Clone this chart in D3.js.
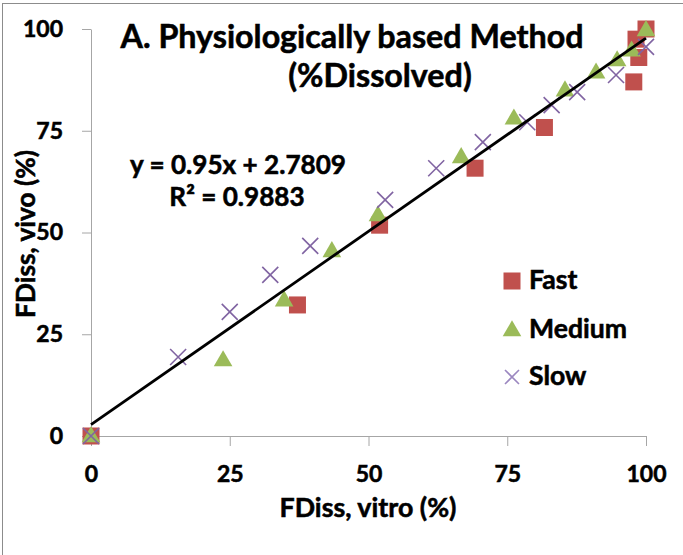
<!DOCTYPE html>
<html>
<head>
<meta charset="utf-8">
<script src="https://cdn.jsdelivr.net/npm/d3@7"></script>
<style>
  html, body { margin: 0; padding: 0; background: #fff; }
  svg text { font-family: Lato, "Open Sans", sans-serif; font-weight: bold; fill: #000; stroke: #000; stroke-width: 0.55px; }
</style>
</head>
<body>
<svg id="chart" width="683" height="555"></svg>
<script>
// ---- data ----
const fastX   = [0, 37.2, 52, 69.2, 81.7, 97.8, 98.7, 98.2, 100];
const fastY   = [0, 32.2, 51.8, 65.8, 75.8, 87, 93, 97.5, 100];
const mediumX = [0, 23.8, 34.8, 43.4, 51.7, 66.7, 76.2, 85.4, 91, 94.8, 97.4, 100];
const mediumY = [0, 18.7, 33.4, 45.5, 54.3, 68.6, 78.1, 85, 89.4, 92.4, 94.8, 99.8];
const slowX   = [0, 15.7, 25, 32.3, 39.5, 53, 62.2, 70.6, 78.6, 83, 87.6, 94.6, 100];
const slowY   = [0, 19.4, 30.5, 39.6, 46.7, 58, 65.8, 72.2, 77.1, 81.3, 84.5, 88.7, 95.6];
const seriesNames = ["Fast", "Medium", "Slow"];
const xTicks = [0, 25, 50, 75, 100];
const yTicks = [0, 25, 50, 75, 100];
const fitSlope = 0.95, fitIntercept = 2.7809;
const eqText = "y = 0.95x + 2.7809";
const r2Text = "R² = 0.9883";
const titleLines = ["A. Physiologically based Method", "(%Dissolved)"];
const xTitle = "FDiss, vitro (%)";
const yTitle = "FDiss, vivo (%)";

// ---- layout ----
const svg = d3.select("#chart");
const x = d3.scaleLinear().domain([0, 100]).range([91, 646]);
const y = d3.scaleLinear().domain([0, 100]).range([436, 29]);
const colors = { Fast: "#c0504d", Medium: "#9bbb59", Slow: "#8064a2" };

function fit(sel, target) {
  const base = 20;
  sel.style("font-size", base + "px");
  const w = sel.node().getComputedTextLength();
  sel.style("font-size", (base * target / w).toFixed(2) + "px");
  return sel;
}

// outer border
svg.append("rect").attr("x", 2.5).attr("y", 3.5).attr("width", 700).attr("height", 600)
  .attr("fill", "none").attr("stroke", "#8c8c8c").attr("stroke-width", 1);

// axes
const axisColor = "#a6a6a6";
const gx = svg.append("g").attr("transform", `translate(0,${y(0)})`)
  .call(d3.axisBottom(x).tickValues(xTicks).tickSize(10).tickSizeOuter(0).tickPadding(20));
const gy = svg.append("g").attr("transform", `translate(${x(0)},0)`)
  .call(d3.axisLeft(y).tickValues(yTicks).tickSize(9).tickSizeOuter(0).tickPadding(19));
[gx, gy].forEach(g => {
  g.select(".domain").attr("stroke", axisColor);
  g.selectAll(".tick line").attr("stroke", axisColor);
  g.selectAll(".tick text").style("font-size", "23px").style("font-family", "Lato, sans-serif")
    .style("font-weight", "bold").attr("fill", "#000");
});

// markers
const plot = svg.append("g");
const sq = 17;
function drawSquare(g, cx, cy, c) {
  g.append("rect").attr("x", cx - sq / 2).attr("y", cy - sq / 2).attr("width", sq).attr("height", sq)
    .attr("fill", c);
}
const triPath = d3.symbol().type(d3.symbolTriangle).size(150);
function drawTri(g, cx, cy, c) {
  g.append("path").attr("d", triPath()).attr("transform", `translate(${cx},${cy + 1})`).attr("fill", c);
}
function drawX(g, cx, cy, c, r) {
  g.append("path").attr("d", `M${cx - r},${cy - r}L${cx + r},${cy + r}M${cx - r},${cy + r}L${cx + r},${cy - r}`)
    .attr("stroke", c).attr("stroke-width", 1.6).attr("fill", "none");
}
fastX.forEach((v, i) => drawSquare(plot, x(v), y(fastY[i]), colors.Fast));
mediumX.forEach((v, i) => drawTri(plot, x(v), y(mediumY[i]), colors.Medium));
slowX.forEach((v, i) => drawX(plot, x(v), y(slowY[i]), colors.Slow, 8));

// trend line
svg.append("line")
  .attr("x1", x(0)).attr("y1", y(fitIntercept))
  .attr("x2", x(100)).attr("y2", y(fitSlope * 100 + fitIntercept))
  .attr("stroke", "#000").attr("stroke-width", 2.8);

// title
const t1 = svg.append("text").attr("x", 352).attr("y", 48).attr("text-anchor", "middle").text(titleLines[0]);
fit(t1, 463);
const fs = t1.style("font-size");
svg.append("text").attr("x", 380).attr("y", 87).attr("text-anchor", "middle").style("font-size", fs).text(titleLines[1]);

// equation
const e1 = svg.append("text").attr("x", 238).attr("y", 174).attr("text-anchor", "middle").text(eqText);
fit(e1, 216);
svg.append("text").attr("x", 237).attr("y", 206).attr("text-anchor", "middle").style("font-size", e1.style("font-size")).text(r2Text);

// axis titles
const xt = svg.append("text").attr("x", 368).attr("y", 517).attr("text-anchor", "middle").text(xTitle);
fit(xt, 177);
const yt = svg.append("text").attr("transform", "translate(35,234) rotate(-90)").attr("text-anchor", "middle").text(yTitle);
fit(yt, 168);

// legend
const legY = [281, 330, 377];
const leg = svg.append("g");
seriesNames.forEach((name, i) => {
  const cy = legY[i];
  if (name === "Fast") drawSquare(leg, 512, cy, colors.Fast);
  else if (name === "Medium") drawTri(leg, 512, cy, colors.Medium);
  else drawX(leg, 512, cy, "#9b87c0", 7);
});
const lt = seriesNames.map((name, i) =>
  leg.append("text").attr("x", 529).attr("y", legY[i] + 8).text(name));
fit(lt[1], 98);
lt[0].style("font-size", lt[1].style("font-size"));
lt[2].style("font-size", lt[1].style("font-size"));
</script>
</body>
</html>
